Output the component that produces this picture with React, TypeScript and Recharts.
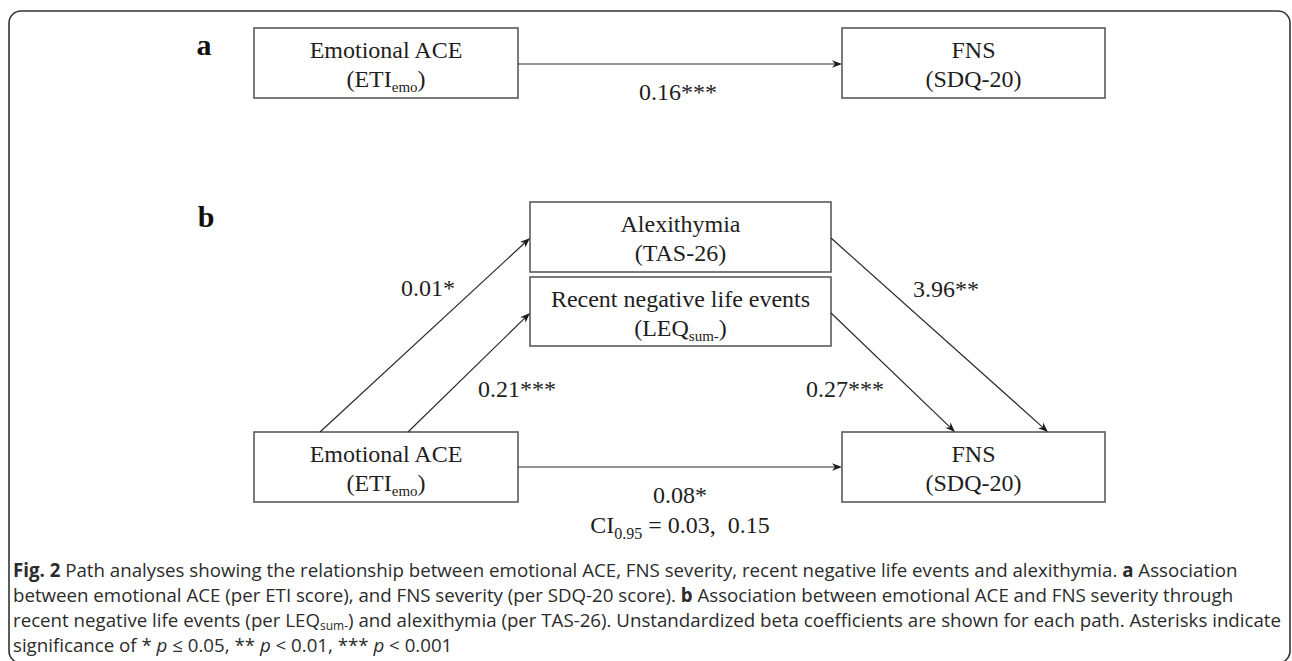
import React from 'react';
import { ComposedChart, XAxis, YAxis, ReferenceArea, ReferenceLine, Scatter } from 'recharts';

const WIDTH = 1292;
const HEIGHT = 661;

// ---- Diagram nodes (diagram units) ----
const boxIds = ['aACE', 'aFNS', 'bALX', 'bLEQ', 'bACE', 'bFNS'];
const boxLeft = [254, 842, 530, 530, 254, 842];
const boxRight = [518, 1105, 831, 831, 518, 1105];
const boxTop = [28, 28, 202, 277, 432, 432];
const boxBottom = [98, 98, 272, 346, 502, 502];
const boxTitle = ['Emotional ACE', 'FNS', 'Alexithymia', 'Recent negative life events', 'Emotional ACE', 'FNS'];
const boxMeasure = ['(ETI', '(SDQ-20)', '(TAS-26)', '(LEQ', '(ETI', '(SDQ-20)'];
const boxMeasureSub = ['emo', '', '', 'sum-', 'emo', ''];
const boxMeasureTail = [')', '', '', ')', ')', ''];

// ---- Paths (arrows) ----
const pathFromX = [518, 320, 408, 831, 831, 518];
const pathFromY = [64, 432, 432, 238, 313, 467];
const pathToX = [842, 530, 530, 1048, 955, 842];
const pathToY = [64, 238, 313, 432, 432, 467];

// ---- Path coefficients ----
const coefLabels = ['0.16***', '0.01*', '0.21***', '3.96**', '0.27***', '0.08*'];
const coefX = [678, 428, 517, 946, 845, 680];
const coefY = [100, 296, 397, 297, 397, 503];
const ciLabel = { main: 'CI', sub: '0.95', tail: ' = 0.03,  0.15', x: 680, y: 533 };

// ---- Panel letters ----
const panelLabels = ['a', 'b'];
const panelX = [204, 206];
const panelY = [55, 227];

// ---- Caption ----
const captionLines = [
  '[b]Fig. 2[/b] Path analyses showing the relationship between emotional ACE, FNS severity, recent negative life events and alexithymia. [b]a[/b] Association',
  'between emotional ACE (per ETI score), and FNS severity (per SDQ-20 score). [b]b[/b] Association between emotional ACE and FNS severity through',
  'recent negative life events (per LEQ[sub]sum-[/sub]) and alexithymia (per TAS-26). Unstandardized beta coefficients are shown for each path. Asterisks indicate',
  'significance of * [i]p[/i] \u2264 0.05, ** [i]p[/i] < 0.01, *** [i]p[/i] < 0.001',
];
const captionX = 13;
const captionY = [577, 602, 627, 652];

const SERIF = '"Liberation Serif", "Times New Roman", Times, serif';
const SANS = '"Open Sans", "Noto Sans", sans-serif';
const INK = '#1e1e1e';
const CAPTION_INK = '#2b2b2b';

const boxTextData = boxIds.map((id, i) => ({
  id,
  i,
  x: (boxLeft[i] + boxRight[i]) / 2,
  y: (boxTop[i] + boxBottom[i]) / 2,
}));
const coefData = coefLabels.map((t, i) => ({ t, x: coefX[i], y: coefY[i] }));
const ciData = [ciLabel];
const panelData = panelLabels.map((t, i) => ({ t, x: panelX[i], y: panelY[i] }));
const captionData = captionLines.map((t, i) => ({ t, x: captionX, y: captionY[i] }));

function renderRich(str: string, subShift: number, subSize: number) {
  const parts = str.split(/(\[b\].*?\[\/b\]|\[i\].*?\[\/i\]|\[sub\].*?\[\/sub\])/);
  const out: any[] = [];
  let shifted = false;
  parts.forEach((p, k) => {
    if (!p) return;
    let m;
    if ((m = p.match(/^\[b\](.*)\[\/b\]$/))) {
      out.push(
        <tspan key={k} fontWeight="bold" dy={shifted ? -subShift : 0}>
          {m[1]}
        </tspan>
      );
      shifted = false;
    } else if ((m = p.match(/^\[i\](.*)\[\/i\]$/))) {
      out.push(
        <tspan key={k} fontStyle="italic" dy={shifted ? -subShift : 0}>
          {m[1]}
        </tspan>
      );
      shifted = false;
    } else if ((m = p.match(/^\[sub\](.*)\[\/sub\]$/))) {
      out.push(
        <tspan key={k} fontSize={subSize} dy={subShift}>
          {m[1]}
        </tspan>
      );
      shifted = true;
    } else {
      out.push(
        <tspan key={k} dy={shifted ? -subShift : 0}>
          {p}
        </tspan>
      );
      shifted = false;
    }
  });
  return out;
}

const BoxText = (props: any) => {
  const { cx, cy, payload } = props;
  const i = payload.i;
  const sub = boxMeasureSub[i];
  return (
    <g>
      <text x={cx} y={cy - 5} textAnchor="middle" fontFamily={SERIF} fontSize={24} fill={INK}>
        {boxTitle[i]}
      </text>
      <text x={cx} y={cy + 24} textAnchor="middle" fontFamily={SERIF} fontSize={24} fill={INK}>
        <tspan>{boxMeasure[i]}</tspan>
        {sub ? (
          <tspan dy={5} fontSize={15}>
            {sub}
          </tspan>
        ) : null}
        {sub ? <tspan dy={-5}>{boxMeasureTail[i]}</tspan> : null}
      </text>
    </g>
  );
};

const CoefText = (props: any) => {
  const { cx, cy, payload } = props;
  return (
    <text x={cx} y={cy} textAnchor="middle" fontFamily={SERIF} fontSize={24} fill={INK}>
      {payload.t}
    </text>
  );
};

const CiText = (props: any) => {
  const { cx, cy, payload } = props;
  return (
    <text x={cx} y={cy} textAnchor="middle" fontFamily={SERIF} fontSize={24} fill={INK} style={{ whiteSpace: 'pre' }}>
      <tspan>{payload.main}</tspan>
      <tspan dy={6} fontSize={16}>
        {payload.sub}
      </tspan>
      <tspan dy={-6}>{payload.tail}</tspan>
    </text>
  );
};

const PanelText = (props: any) => {
  const { cx, cy, payload } = props;
  return (
    <text x={cx} y={cy} textAnchor="middle" fontFamily={SERIF} fontWeight="bold" fontSize={30} fill="#111">
      {payload.t}
    </text>
  );
};

const CaptionText = (props: any) => {
  const { cx, cy, payload } = props;
  return (
    <text x={cx} y={cy} fontFamily={SANS} fontSize={18.7} fill={CAPTION_INK} style={{ whiteSpace: 'pre' }}>
      {renderRich(payload.t, 3, 12)}
    </text>
  );
};

const Arrow = (props: any) => {
  const { x1, y1, x2, y2 } = props;
  if ([x1, y1, x2, y2].some((v) => typeof v !== 'number' || isNaN(v))) return null;
  const dx = x2 - x1;
  const dy = y2 - y1;
  const len = Math.sqrt(dx * dx + dy * dy) || 1;
  const ux = dx / len;
  const uy = dy / len;
  const hl = 10;
  const hw = 3.8;
  const bx = x2 - ux * hl;
  const by = y2 - uy * hl;
  const nx = x2 - ux * hl * 0.7;
  const ny = y2 - uy * hl * 0.7;
  const pts = [
    [x2, y2],
    [bx - uy * hw, by + ux * hw],
    [nx, ny],
    [bx + uy * hw, by - ux * hw],
  ]
    .map((p) => p.join(','))
    .join(' ');
  return (
    <g>
      <line x1={x1} y1={y1} x2={nx} y2={ny} stroke="#2a2a2a" strokeWidth={1.2} />
      <polygon points={pts} fill="#1a1a1a" />
    </g>
  );
};

const Frame = (props: any) => {
  const { x, y, width, height } = props;
  return <rect x={x} y={y} width={width} height={height} rx={12} ry={12} fill="#fff" stroke="#333" strokeWidth={1.6} />;
};

const Box = (props: any) => {
  const { x, y, width, height } = props;
  return <rect x={x} y={y} width={width} height={height} fill="#fff" stroke="#5a5a5a" strokeWidth={1.6} />;
};

export default function App() {
  return (
    <div style={{ position: 'absolute', left: 0, top: 0, width: WIDTH, height: HEIGHT, background: '#fff' }}>
      <ComposedChart width={WIDTH} height={HEIGHT} margin={{ top: 0, right: 0, bottom: 0, left: 0 }}>
        <XAxis type="number" dataKey="x" domain={[0, WIDTH]} hide allowDataOverflow />
        <YAxis type="number" dataKey="y" domain={[0, HEIGHT]} reversed hide allowDataOverflow />
        <ReferenceArea x1={9} x2={1290} y1={11} y2={663} shape={Frame} ifOverflow="visible" />
        {boxIds.map((id, i) => (
          <ReferenceArea
            key={id}
            x1={boxLeft[i]}
            x2={boxRight[i]}
            y1={boxTop[i]}
            y2={boxBottom[i]}
            shape={Box}
            ifOverflow="visible"
          />
        ))}
        {pathFromX.map((_, i) => (
          <ReferenceLine
            key={'p' + i}
            segment={[
              { x: pathFromX[i], y: pathFromY[i] },
              { x: pathToX[i], y: pathToY[i] },
            ]}
            shape={Arrow}
            ifOverflow="visible"
          />
        ))}
        <Scatter data={boxTextData} dataKey="y" shape={BoxText} isAnimationActive={false} />
        <Scatter data={coefData} dataKey="y" shape={CoefText} isAnimationActive={false} />
        <Scatter data={ciData} dataKey="y" shape={CiText} isAnimationActive={false} />
        <Scatter data={panelData} dataKey="y" shape={PanelText} isAnimationActive={false} />
        <Scatter data={captionData} dataKey="y" shape={CaptionText} isAnimationActive={false} />
      </ComposedChart>
    </div>
  );
}
